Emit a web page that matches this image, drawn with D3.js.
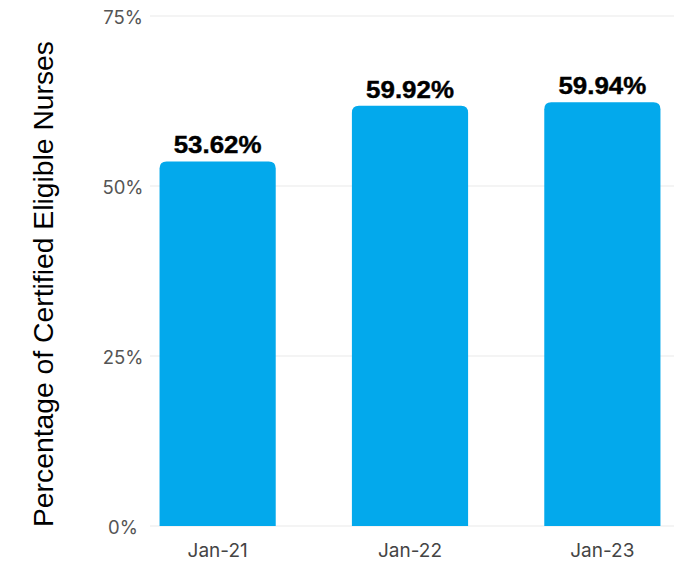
<!DOCTYPE html>
<html>
<head>
<meta charset="utf-8">
<script src="https://cdn.jsdelivr.net/npm/d3@7"></script>
<style>
  html, body { margin: 0; padding: 0; background: #fff; }
  svg { display: block; }
</style>
</head>
<body>
<svg width="684" height="561"></svg>
<script>
// categories and values as drawn in the reference
var categories = ['Jan-21', 'Jan-22', 'Jan-23'];
// bar heights (the last two bars are drawn taller than their labels)
var barValues = [53.62, 61.8, 62.3];
var valueLabels = ['53.62%', '59.92%', '59.94%'];
var yTicks = [0, 25, 50, 75];
var yTickLabels = ['0%', '25%', '50%', '75%'];
var yTitle = 'Percentage of Certified Eligible Nurses';

var data = categories.map((c, i) => {
  return {'cat': c, 'value': barValues[i], 'label': valueLabels[i]};
});

var svg = d3.select('svg');

var xScale = d3.scaleBand()
  .domain(categories)
  .range([148, 672])
  .paddingInner(0.396)
  .paddingOuter(0.06);

var yScale = d3.scaleLinear()
  .domain([0, 75])
  .range([526, 16]);

// faint gridlines
svg.append('g')
  .selectAll('line')
  .data(yTicks)
  .join('line')
  .attr('x1', 150)
  .attr('x2', 674)
  .attr('y1', d => yScale(d))
  .attr('y2', d => yScale(d))
  .attr('stroke', '#f1f1f1')
  .attr('stroke-width', 1.5);

// y tick labels
svg.append('g')
  .selectAll('text')
  .data(yTicks)
  .join('text')
  .attr('x', 123)
  .attr('y', d => yScale(d) + 2)
  .attr('dy', '0.35em')
  .attr('text-anchor', 'middle')
  .attr('font-family', 'Inter, sans-serif')
  .attr('font-size', 18.5)
  .attr('fill', '#555')
  .text((d, i) => yTickLabels[i]);

// bars with rounded top corners
function barPath(x, y, w, h, r) {
  return `M${x},${y + h}V${y + r}Q${x},${y} ${x + r},${y}H${x + w - r}Q${x + w},${y} ${x + w},${y + r}V${y + h}Z`;
}

svg.append('g')
  .selectAll('path')
  .data(data)
  .join('path')
  .attr('d', d => {
    var y = yScale(d.value);
    return barPath(xScale(d.cat), y, xScale.bandwidth(), yScale(0) - y, 7);
  })
  .attr('fill', '#03A9EC');

// value labels
svg.append('g')
  .selectAll('text')
  .data(data)
  .join('text')
  .attr('transform', d => `translate(${xScale(d.cat) + xScale.bandwidth() / 2}, ${yScale(d.value) - 8}) scale(1.08, 1)`)
  .attr('text-anchor', 'middle')
  .attr('font-family', 'Liberation Sans, Arial, sans-serif')
  .attr('font-weight', 'bold')
  .attr('font-size', 24)
  .attr('fill', '#000')
  .attr('stroke', '#000')
  .attr('stroke-width', 0.4)
  .text(d => d.label);

// x axis labels
svg.append('g')
  .selectAll('text')
  .data(categories)
  .join('text')
  .attr('x', d => xScale(d) + xScale.bandwidth() / 2)
  .attr('y', 550)
  .attr('dy', '0.35em')
  .attr('text-anchor', 'middle')
  .attr('font-family', 'Inter, sans-serif')
  .attr('font-size', 19)
  .attr('fill', '#444')
  .text(d => d);

// y axis title
svg.append('text')
  .attr('transform', 'translate(53, 284) rotate(-90)')
  .attr('text-anchor', 'middle')
  .attr('font-family', 'Liberation Sans, Arial, sans-serif')
  .attr('font-size', 28.3)
  .attr('fill', '#000')
  .text(yTitle);
</script>
</body>
</html>
